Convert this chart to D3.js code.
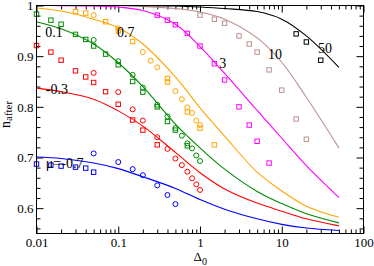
<!DOCTYPE html>
<html><head><meta charset="utf-8">
<script src="https://cdn.jsdelivr.net/npm/d3@7/dist/d3.min.js"></script>
<style>
body{margin:0;background:#fff}
svg{display:block}
text{font-family:"Liberation Serif","Times New Roman",serif;fill:#000}
</style>
</head><body>
<svg id="c" width="374" height="266"></svg>
<script>
// ---------- data ----------
const curveDelta = [0.01,0.02,0.05,0.1,0.2,0.5,1,2,5,10,20,50];
const curveMuM07 = [0.701,0.698,0.689,0.678,0.662,0.639,0.617,0.598,0.579,0.568,0.561,0.556];
const curveMuM03 = [0.837,0.830,0.815,0.792,0.762,0.710,0.670,0.638,0.610,0.594,0.579,0.565];
const curveMu01  = [0.968,0.954,0.924,0.887,0.840,0.766,0.719,0.677,0.633,0.609,0.589,0.571];
const curveMu07  = [0.995,0.989,0.973,0.956,0.924,0.859,0.798,0.742,0.671,0.634,0.604,0.582];
const curveMu3   = [1.000,0.9998,0.999,0.997,0.990,0.963,0.919,0.866,0.793,0.738,0.684,0.621];
const curveMu10  = [1.000,1.000,1.000,0.9995,0.998,0.994,0.987,0.973,0.936,0.888,0.819,0.719];
const curveMu50  = [1.000,1.000,1.000,1.000,0.9997,0.999,0.997,0.994,0.988,0.973,0.940,0.878];

const sqDeltaM07 = [0.01,0.015,0.02,0.03,0.04,0.05];
const sqValM07   = [0.687,0.685,0.683,0.681,0.679,0.671];
const ciDeltaM07 = [0.05,0.1,0.15,0.2,0.3,0.4,0.5];
const ciValM07   = [0.708,0.691,0.677,0.665,0.645,0.626,0.608];

const sqDeltaM03 = [0.01,0.015,0.02,0.03,0.04,0.05,0.07,0.1,0.15,0.2,0.3];
const sqValM03   = [0.921,0.908,0.892,0.871,0.859,0.848,0.830,0.805,0.774,0.754,0.725];
const ciDeltaM03 = [0.05,0.1,0.15,0.2,0.3,0.4,0.5,0.6,0.7,0.8,0.9,1.0];
const ciValM03   = [0.867,0.829,0.795,0.773,0.740,0.717,0.698,0.685,0.672,0.659,0.647,0.636];

const sqDelta01 = [0.01,0.015,0.02,0.03,0.04,0.05,0.07,0.1,0.15,0.2,0.3,0.4,0.5,0.7];
const sqVal01   = [0.983,0.971,0.963,0.943,0.933,0.920,0.904,0.883,0.850,0.829,0.800,0.771,0.754,0.723];
const ciDelta01 = [0.05,0.1,0.15,0.2,0.3,0.4,0.5,0.6,0.7,0.8,0.9,1.0];
const ciVal01   = [0.932,0.890,0.863,0.838,0.804,0.781,0.758,0.743,0.728,0.718,0.704,0.693];

const sqDelta07 = [0.03,0.04,0.07,0.1,0.15,0.4,0.4,0.7,1.0,1.5];
const sqVal07   = [0.988,0.985,0.968,0.950,0.929,0.856,0.849,0.790,0.758,0.725];
const ciDelta07 = [0.05,0.1,0.2,0.25,0.3,0.5,0.6,0.7,0.8,0.9,1.0];
const ciVal07   = [0.981,0.955,0.908,0.891,0.878,0.831,0.815,0.799,0.788,0.773,0.764];

const sqDelta3 = [0.3,0.4,0.5,0.7,1,1.5,2,3,4,5,7];
const sqVal3   = [0.981,0.971,0.962,0.945,0.920,0.885,0.853,0.800,0.764,0.732,0.689];

const sqDelta10 = [1,1.5,2,3,4,5,7,10,15,20];
const sqVal10   = [0.981,0.973,0.965,0.940,0.924,0.908,0.873,0.833,0.776,0.736];

const sqDelta50 = [15,20,30];
const sqVal50   = [0.944,0.928,0.892];

const seriesLabels = ["\u03bc=-0.7","-0.3","0.1","0.7","3","10","50"];
const seriesColors = ["#0000ff","#ff0000","#008b00","#ffa500","#ff00ff","#bc8f8f","#000000"];
// label anchor in data space (Delta, n_after at baseline)
const labelDelta = [0.013,0.013,0.0128,0.0966,1.72,6.79,27.8];
const labelVal   = [0.679,0.825,0.9385,0.9385,0.877,0.894,0.906];

const xMajor = [0.01,0.1,1,10,100];
const xMajorLabels = ["0.01","0.1","1","10","100"];
const yMajor = [0.6,0.7,0.8,0.9,1.0];
const yMajorLabels = ["0.6","0.7","0.8","0.9","1"];

// ---------- build ----------
const series = [
  {curve:curveMuM07, sqD:sqDeltaM07, sqV:sqValM07, ciD:ciDeltaM07, ciV:ciValM07},
  {curve:curveMuM03, sqD:sqDeltaM03, sqV:sqValM03, ciD:ciDeltaM03, ciV:ciValM03},
  {curve:curveMu01,  sqD:sqDelta01,  sqV:sqVal01,  ciD:ciDelta01,  ciV:ciVal01},
  {curve:curveMu07,  sqD:sqDelta07,  sqV:sqVal07,  ciD:ciDelta07,  ciV:ciVal07},
  {curve:curveMu3,   sqD:sqDelta3,   sqV:sqVal3,   ciD:[], ciV:[]},
  {curve:curveMu10,  sqD:sqDelta10,  sqV:sqVal10,  ciD:[], ciV:[]},
  {curve:curveMu50,  sqD:sqDelta50,  sqV:sqVal50,  ciD:[], ciV:[]}
].map((s,i)=>Object.assign(s,{color:seriesColors[i],label:seriesLabels[i],lx:labelDelta[i],ly:labelVal[i]}));

const L=36.5, R=363.5, T=5.5, B=233.5;
const svg = d3.select("#c");
const x = d3.scaleLog().domain([0.01,100]).range([L,R]);
const y = d3.scaleLinear().domain([0.55,1.0]).range([B,T]);

const xMinor = [];
[0.01,0.1,1,10].forEach(d=>{for(let k=2;k<=9;k++) xMinor.push(d*k);});
const yMinor = d3.range(0.56,1.0001,0.02).filter(v=>Math.abs(v*10-Math.round(v*10))>1e-6);

function styleAxis(g){g.select(".domain").remove(); g.selectAll("line").attr("stroke","#000").attr("stroke-width",1);}

// bottom
svg.append("g").attr("transform",`translate(0,${B})`)
  .call(d3.axisBottom(x).tickValues(xMinor).tickSize(-4).tickFormat(""))
  .call(styleAxis);
svg.append("g").attr("transform",`translate(0,${B})`)
  .call(d3.axisBottom(x).tickValues(xMajor).tickSize(-7).tickPadding(4.5).tickFormat((d,i)=>xMajorLabels[i]))
  .call(styleAxis)
  .call(g=>g.selectAll("text").attr("font-size",13).attr("font-family","Liberation Serif"));
// top
svg.append("g").attr("transform",`translate(0,${T})`)
  .call(d3.axisTop(x).tickValues(xMinor).tickSize(-4).tickFormat("")).call(styleAxis);
svg.append("g").attr("transform",`translate(0,${T})`)
  .call(d3.axisTop(x).tickValues(xMajor).tickSize(-7).tickFormat("")).call(styleAxis);
// left
svg.append("g").attr("transform",`translate(${L},0)`)
  .call(d3.axisLeft(y).tickValues(yMinor).tickSize(-4).tickFormat("")).call(styleAxis);
svg.append("g").attr("transform",`translate(${L},0)`)
  .call(d3.axisLeft(y).tickValues(yMajor).tickSize(-7).tickPadding(3).tickFormat((d,i)=>yMajorLabels[i]))
  .call(styleAxis)
  .call(g=>g.selectAll("text").attr("font-size",13).attr("font-family","Liberation Serif"));
// right
svg.append("g").attr("transform",`translate(${R},0)`)
  .call(d3.axisRight(y).tickValues(yMinor).tickSize(-4).tickFormat("")).call(styleAxis);
svg.append("g").attr("transform",`translate(${R},0)`)
  .call(d3.axisRight(y).tickValues(yMajor).tickSize(-7).tickFormat("")).call(styleAxis);

// curves
const line = d3.line().x(d=>x(d[0])).y(d=>y(d[1])).curve(d3.curveCatmullRom.alpha(0.5));
const plot = svg.append("g");
series.forEach(s=>{
  plot.append("path").datum(curveDelta.map((d,i)=>[d,Math.min(1,s.curve[i])]))
    .attr("d",line).attr("fill","none").attr("stroke",s.color).attr("stroke-width",1.1);
});
// markers
const sq = 4.4;
series.forEach(s=>{
  plot.selectAll(null).data(s.sqD.map((d,i)=>[d,s.sqV[i]])).enter().append("rect")
    .attr("x",d=>x(d[0])-sq/2).attr("y",d=>y(d[1])-sq/2).attr("width",sq).attr("height",sq)
    .attr("fill","none").attr("stroke",s.color).attr("stroke-width",1);
  plot.selectAll(null).data(s.ciD.map((d,i)=>[d,s.ciV[i]])).enter().append("circle")
    .attr("cx",d=>x(d[0])).attr("cy",d=>y(d[1])).attr("r",2.5)
    .attr("fill","none").attr("stroke",s.color).attr("stroke-width",1);
});
// series labels
series.forEach(s=>{
  svg.append("text").attr("x",x(s.lx)).attr("y",y(s.ly)).attr("font-size",14).text(s.label);
});

// frame
svg.append("rect").attr("x",L).attr("y",T).attr("width",R-L).attr("height",B-T)
  .attr("fill","none").attr("stroke","#000").attr("stroke-width",1);

// axis titles
const yt = svg.append("text").attr("transform","translate(9.5,128) rotate(-90)").attr("font-size",14);
yt.append("tspan").text("n");
yt.append("tspan").attr("font-size",11).attr("dy",2.5).text("after");
const xt = svg.append("text").attr("x",193.5).attr("y",261).attr("font-size",13);
xt.append("tspan").text("\u0394");
xt.append("tspan").attr("font-size",10).attr("dy",4).text("0");
</script>
</body></html>
